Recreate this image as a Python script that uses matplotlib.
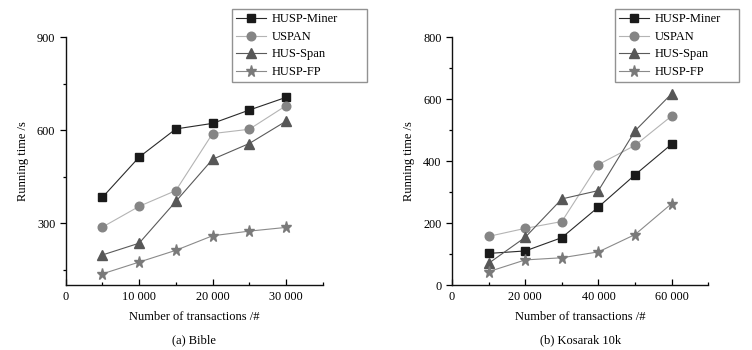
import matplotlib
matplotlib.use("Agg")
import matplotlib.pyplot as plt
from matplotlib.ticker import MultipleLocator, FuncFormatter

plt.rcParams["font.family"] = ["Liberation Serif", "DejaVu Serif"]

series_names = ["HUSP-Miner", "USPAN", "HUS-Span", "HUSP-FP"]

# (a) Bible
bible_x = [5000, 10000, 15000, 20000, 25000, 30000]
bible_miner = [383, 513, 604, 622, 665, 706]
bible_uspan = [287, 354, 405, 589, 603, 679]
bible_husspan = [197, 235, 370, 506, 557, 629]
bible_fp = [136, 174, 212, 259, 274, 286]

# (b) Kosarak 10k
kos_x = [10000, 20000, 30000, 40000, 50000, 60000]
kos_miner = [102, 110, 153, 252, 356, 455]
kos_uspan = [157, 183, 205, 389, 451, 546]
kos_husspan = [70, 154, 278, 305, 498, 618]
kos_fp = [43, 81, 88, 107, 163, 263]

styles = [
    dict(marker="s", color="#2a2a2a", mfc="#1a1a1a", mec="#1a1a1a", ms=5.2),
    dict(marker="o", color="#b4b4b4", mfc="#858585", mec="#858585", ms=6.2),
    dict(marker="^", color="#5a5a5a", mfc="#575757", mec="#575757", ms=6.8),
    dict(marker="*", color="#8a8a8a", mfc="#7a7a7a", mec="#7a7a7a", ms=8.2),
]

W, H = 752, 350
fig = plt.figure(figsize=(W / 100, H / 100), dpi=100)


def thousands(v, pos):
    return f"{int(v):,}".replace(",", " ")


def make_panel(rect, xs, ys_list, xlim, xmajor, ylim, ymajor, caption, legend_box):
    ax = fig.add_axes(rect)
    handles = []
    for ys, st, name in zip(ys_list, styles, series_names):
        h, = ax.plot(xs, ys, lw=0.8, label=name, clip_on=False, **st)
        handles.append(h)
    ax.set_xlim(*xlim)
    ax.set_ylim(*ylim)
    ax.spines["top"].set_visible(False)
    ax.spines["right"].set_visible(False)
    for s in ("left", "bottom"):
        ax.spines[s].set_linewidth(1.0)
        ax.spines[s].set_color("#111111")
    ax.xaxis.set_major_locator(MultipleLocator(xmajor))
    ax.xaxis.set_minor_locator(MultipleLocator(xmajor / 2))
    ax.yaxis.set_major_locator(MultipleLocator(ymajor))
    ax.yaxis.set_minor_locator(MultipleLocator(ymajor / 2))
    ax.xaxis.set_major_formatter(FuncFormatter(thousands))
    ax.tick_params(axis="x", which="both", direction="in", labelsize=8.8, pad=4)
    ax.tick_params(axis="y", which="both", direction="out", labelsize=8.8)
    ax.tick_params(which="major", length=4, width=0.9)
    ax.tick_params(which="minor", length=2.5, width=0.9)
    ax.set_xlabel("Number of transactions /#", fontsize=9, labelpad=6)
    ax.set_ylabel("Running time /s", fontsize=9, labelpad=6)
    ax.text(0.5, -0.2, caption, transform=ax.transAxes, ha="center",
            va="top", fontsize=9)
    x0, y0, x1, y1 = legend_box
    leg = ax.legend(handles=handles, loc="upper left", mode="expand",
                    bbox_to_anchor=(x0 / W, 1 - y1 / H, (x1 - x0) / W, (y1 - y0) / H),
                    bbox_transform=fig.transFigure, borderaxespad=0,
                    fancybox=False, frameon=True, fontsize=9,
                    handlelength=2.4, handletextpad=0.4, labelspacing=0.44,
                    borderpad=0.35)
    leg.get_frame().set_edgecolor("#777777")
    leg.get_frame().set_linewidth(1.0)
    return ax


bottom = 1 - 285 / H
height = (285 - 37.3) / H
make_panel([65.7 / W, bottom, 257 / W, height], bible_x,
           [bible_miner, bible_uspan, bible_husspan, bible_fp],
           (0, 35000), 10000, (100, 900), 300, "(a) Bible", (232, 9, 367, 83))
make_panel([452 / W, bottom, 256.3 / W, height], kos_x,
           [kos_miner, kos_uspan, kos_husspan, kos_fp],
           (0, 70000), 20000, (0, 800), 200, "(b) Kosarak 10k", (615, 9, 739, 83))

fig.savefig("out.png", dpi=100)
